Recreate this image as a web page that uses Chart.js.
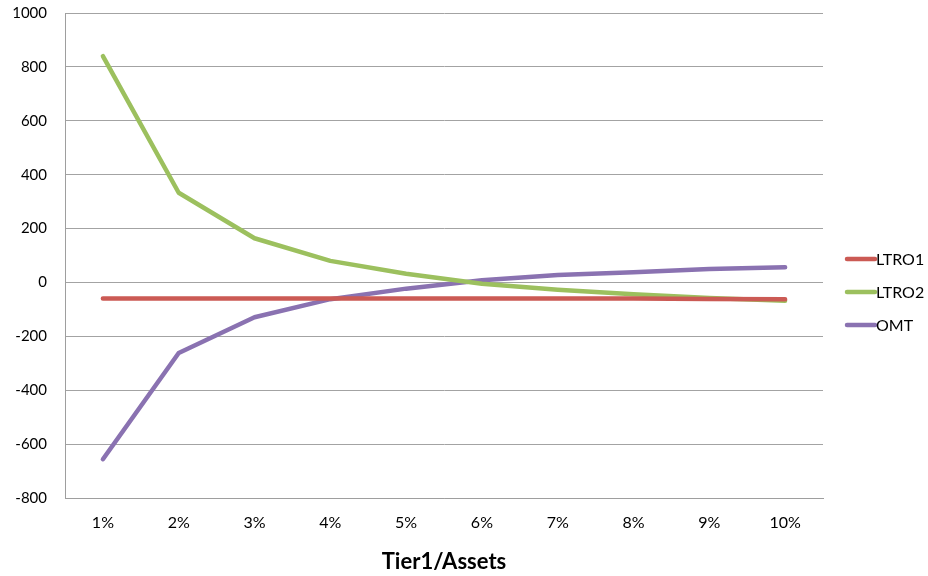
<!DOCTYPE html>
<html>
<head>
<meta charset="utf-8">
<script src="https://cdn.jsdelivr.net/npm/chart.js@4/dist/chart.umd.min.js"></script>
<style>
  html, body { margin: 0; padding: 0; background: #fff; }
  #wrap { width: 928px; height: 576px; position: relative; }
</style>
</head>
<body>
<div id="wrap"><canvas id="c" width="928" height="576"></canvas></div>
<script>
// Tier1/Assets ratio buckets
const categories = ['1%', '2%', '3%', '4%', '5%', '6%', '7%', '8%', '9%', '10%'];

// Series values
const ltro1 = [-60, -60, -60, -60, -60, -60, -60, -60, -61, -62];
const ltro2 = [840, 333, 164, 80, 32, -5, -27, -44, -58, -68];
const omt   = [-656, -262, -129, -62, -23, 8, 28, 38, 50, 56];

// Y axis range and step
const yMin = -800;
const yMax = 1000;
const yStep = 200;

const seriesNames = ['LTRO1', 'LTRO2', 'OMT'];
const seriesColors = ['#CB5A54', '#9CC05E', '#8A72B1'];
const FONT = 'Lato, "Liberation Sans", sans-serif';

// Plot area edges
const AREA = { left: 65, top: 13, right: 823, bottom: 498 };

// Legend drawn to the right of the plot
const sideLegend = {
  id: 'sideLegend',
  afterDraw(chart) {
    const ctx = chart.ctx;
    const x0 = 847, x1 = 875;
    const startY = 259, gap = 33;
    ctx.save();
    chart.data.datasets.forEach((ds, i) => {
      const y = startY + i * gap;
      ctx.strokeStyle = ds.borderColor;
      ctx.lineWidth = 4.5;
      ctx.lineCap = 'round';
      ctx.beginPath();
      ctx.moveTo(x0, y);
      ctx.lineTo(x1, y);
      ctx.stroke();
      ctx.fillStyle = '#000';
      ctx.font = '16px ' + FONT;
      ctx.textAlign = 'left';
      ctx.textBaseline = 'middle';
      ctx.fillText(ds.label, x1 + 1, y + 1);
    });
    ctx.restore();
  }
};

const seriesData = [ltro1, ltro2, omt];

const chart = new Chart(document.getElementById('c'), {
  type: 'line',
  data: {
    labels: categories,
    datasets: seriesNames.map((name, i) => ({
      label: name,
      data: seriesData[i],
      borderColor: seriesColors[i],
      backgroundColor: seriesColors[i],
      borderWidth: 4.5,
      borderCapStyle: 'round',
      borderJoinStyle: 'round',
      pointRadius: 0,
      pointHoverRadius: 0,
      tension: 0,
      fill: false
    }))
  },
  options: {
    responsive: false,
    animation: false,
    devicePixelRatio: 1,
    layout: { padding: { left: 0, right: 928 - AREA.right, top: AREA.top, bottom: 0 } },
    plugins: {
      legend: { display: false },
      tooltip: { enabled: false }
    },
    scales: {
      x: {
        type: 'category',
        offset: true,
        grid: { display: false, drawTicks: false },
        border: { display: true, color: '#9e9e9e', width: 1 },
        ticks: {
          color: '#000',
          font: { family: FONT, size: 16 },
          padding: 15,
          maxRotation: 0,
          autoSkip: false
        },
        title: {
          display: true,
          text: 'Tier1/Assets',
          color: '#000',
          font: { family: FONT, size: 22, weight: 'bold' },
          padding: { top: 10, bottom: 1 }
        },
        afterFit(scale) { scale.height = 576 - AREA.bottom; }
      },
      y: {
        min: yMin,
        max: yMax,
        grid: { color: '#a3a3a3', lineWidth: 1, drawTicks: false },
        border: { display: true, color: '#9e9e9e', width: 1 },
        ticks: {
          stepSize: yStep,
          color: '#000',
          font: { family: FONT, size: 15 },
          padding: 18,
          callback: (v) => String(v)
        },
        afterFit(scale) {
          scale.width = AREA.left;
          scale.paddingTop = 0;
          scale.paddingBottom = 0;
        }
      }
    }
  },
  plugins: [sideLegend]
});
</script>
</body>
</html>
